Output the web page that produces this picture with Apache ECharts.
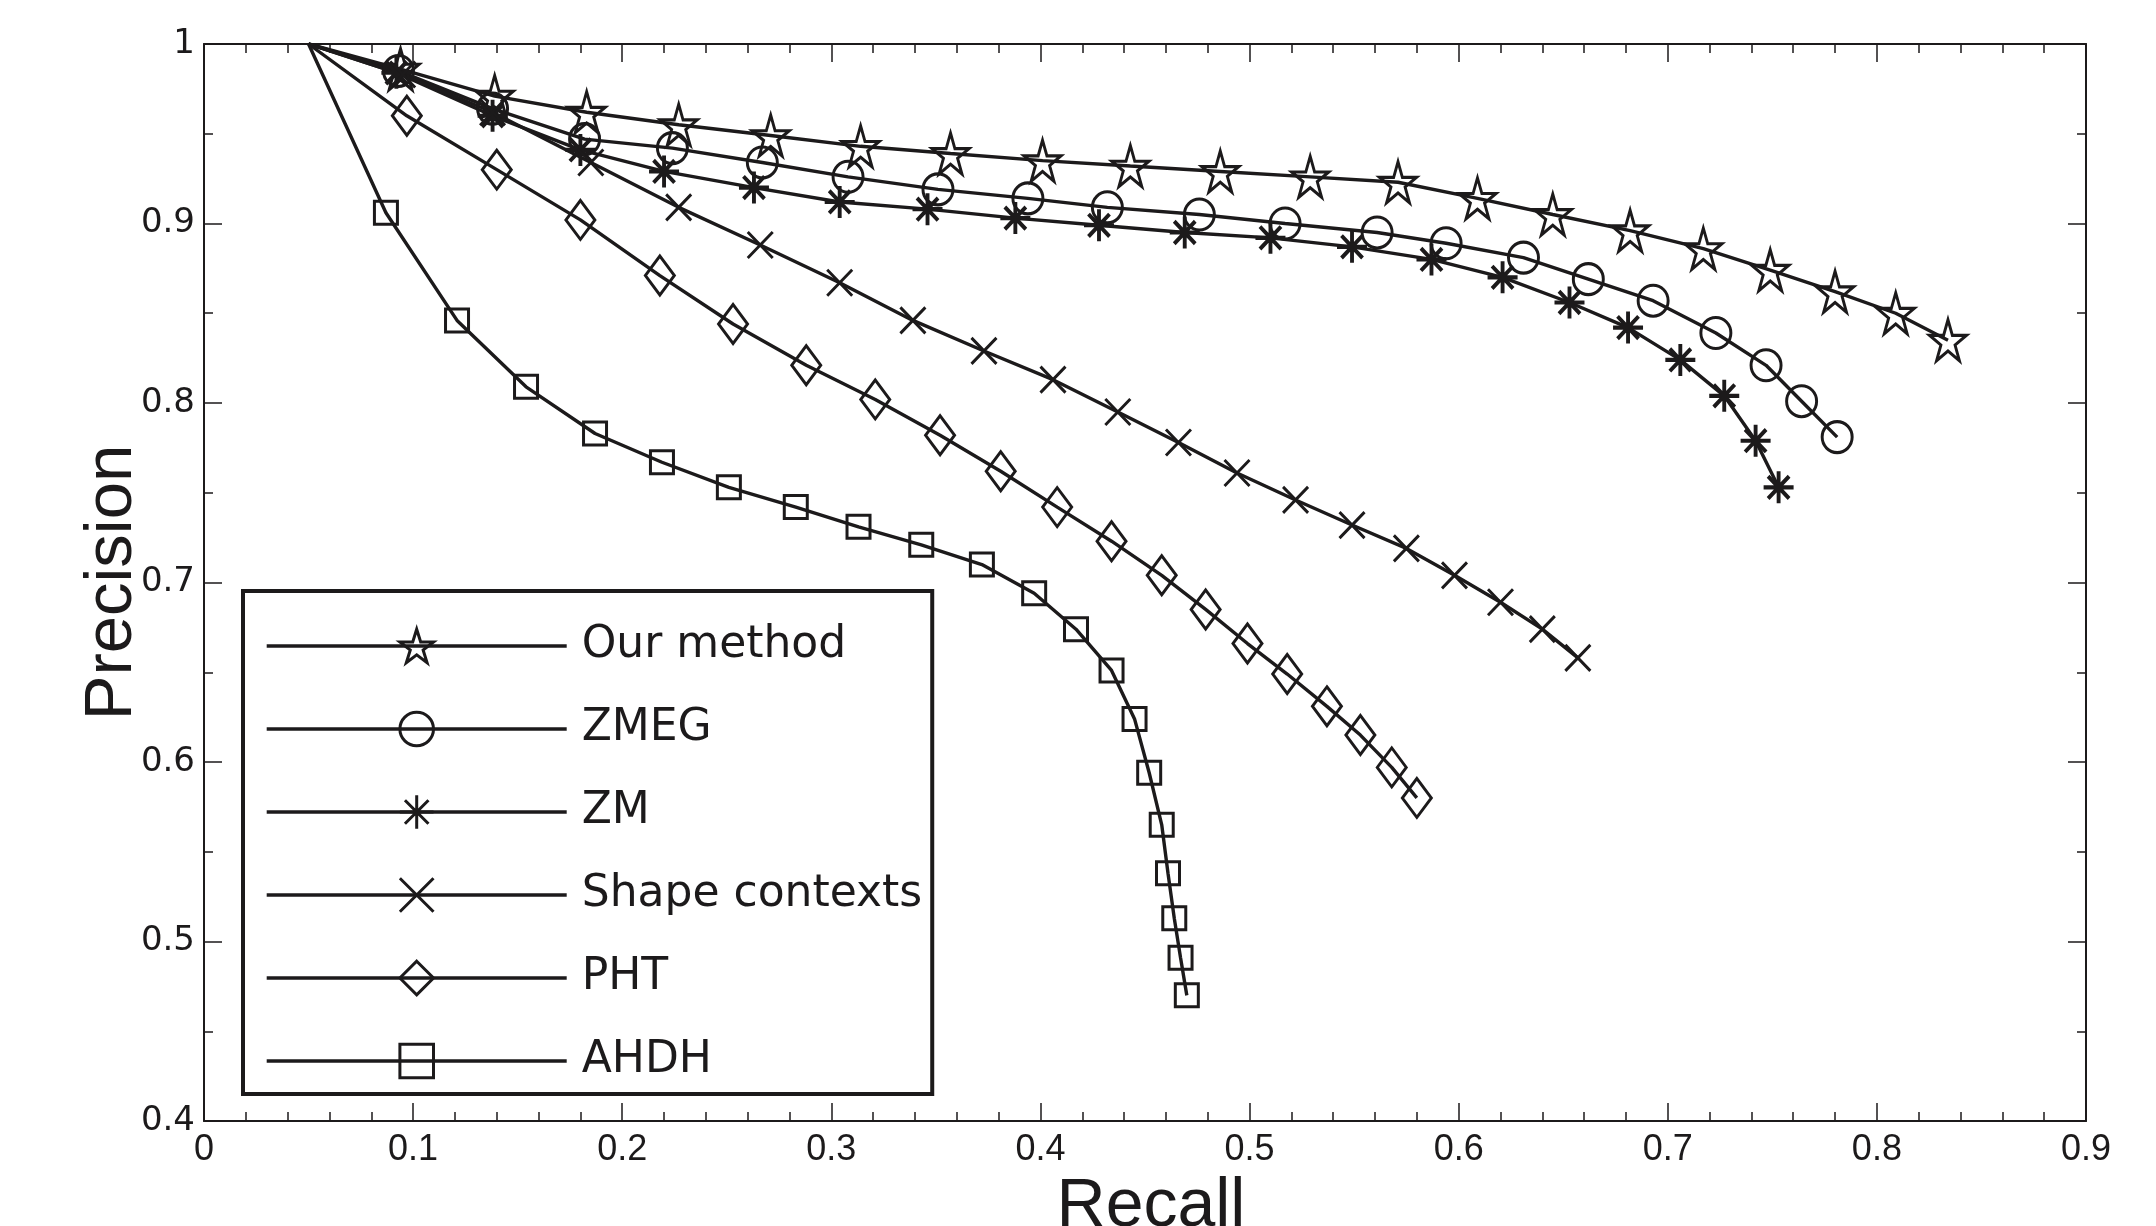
<!DOCTYPE html>
<html>
<head>
<meta charset="utf-8">
<script src="https://cdn.jsdelivr.net/npm/echarts@6/dist/echarts.min.js"></script>
<style>
html,body{margin:0;padding:0;background:#fff;overflow:hidden;}
#chart{width:2156px;height:1226px;}
</style>
</head>
<body>
<div id="chart"></div>
<script>
// ---------- data ----------
const seriesNames = ['Our method', 'ZMEG', 'ZM', 'Shape contexts', 'PHT', 'AHDH'];

const oursRecall = [0.05, 0.094, 0.139, 0.183, 0.227, 0.271, 0.314, 0.357, 0.401, 0.443, 0.486, 0.529, 0.571, 0.609, 0.645, 0.682, 0.717, 0.749, 0.780, 0.809, 0.834];
const oursPrecision = [1, 0.986, 0.971, 0.962, 0.955, 0.949, 0.943, 0.939, 0.935, 0.932, 0.929, 0.926, 0.923, 0.914, 0.905, 0.896, 0.886, 0.874, 0.862, 0.850, 0.835];

const zmegRecall = [0.05, 0.093, 0.138, 0.182, 0.224, 0.267, 0.308, 0.351, 0.394, 0.432, 0.476, 0.517, 0.561, 0.594, 0.631, 0.662, 0.693, 0.723, 0.747, 0.764, 0.781];
const zmegPrecision = [1, 0.985, 0.964, 0.947, 0.942, 0.934, 0.926, 0.919, 0.914, 0.909, 0.905, 0.900, 0.895, 0.889, 0.881, 0.869, 0.857, 0.839, 0.821, 0.801, 0.781];

const zmRecall = [0.05, 0.092, 0.138, 0.180, 0.220, 0.263, 0.304, 0.346, 0.388, 0.428, 0.469, 0.510, 0.549, 0.587, 0.621, 0.653, 0.681, 0.706, 0.727, 0.742, 0.753];
const zmPrecision = [1, 0.984, 0.960, 0.941, 0.929, 0.920, 0.912, 0.908, 0.903, 0.899, 0.895, 0.892, 0.887, 0.880, 0.870, 0.856, 0.842, 0.824, 0.804, 0.779, 0.753];

const scRecall = [0.05, 0.095, 0.138, 0.185, 0.227, 0.266, 0.304, 0.339, 0.373, 0.406, 0.437, 0.466, 0.494, 0.522, 0.549, 0.575, 0.598, 0.620, 0.640, 0.657];
const scPrecision = [1, 0.983, 0.962, 0.934, 0.909, 0.888, 0.867, 0.846, 0.829, 0.813, 0.795, 0.778, 0.761, 0.746, 0.732, 0.719, 0.704, 0.689, 0.674, 0.658];

const phtRecall = [0.05, 0.097, 0.140, 0.180, 0.218, 0.253, 0.288, 0.321, 0.352, 0.381, 0.408, 0.434, 0.458, 0.479, 0.499, 0.518, 0.537, 0.553, 0.568, 0.580];
const phtPrecision = [1, 0.960, 0.930, 0.902, 0.871, 0.844, 0.821, 0.802, 0.782, 0.762, 0.742, 0.723, 0.704, 0.685, 0.666, 0.649, 0.631, 0.615, 0.597, 0.580];

const ahdhRecall = [0.05, 0.087, 0.121, 0.154, 0.187, 0.219, 0.251, 0.283, 0.313, 0.343, 0.372, 0.397, 0.417, 0.434, 0.445, 0.452, 0.458, 0.461, 0.464, 0.467, 0.470];
const ahdhPrecision = [1, 0.906, 0.846, 0.809, 0.783, 0.767, 0.753, 0.742, 0.731, 0.721, 0.710, 0.694, 0.674, 0.651, 0.624, 0.594, 0.565, 0.538, 0.513, 0.491, 0.470];

const xTickLabels = ['0', '0.1', '0.2', '0.3', '0.4', '0.5', '0.6', '0.7', '0.8', '0.9'];
const yTickLabels = ['0.4', '0.5', '0.6', '0.7', '0.8', '0.9', '1'];

// ---------- styling ----------
const INK = '#1c1a1b';
const STAR = 'path://M50,0 L61.23,34.55 L97.55,34.55 L68.16,55.9 L79.39,90.45 L50,69.1 L20.61,90.45 L31.84,55.9 L2.45,34.55 L38.77,34.55 Z';
const ASTER = 'path://M50,0L50,100M0,50L100,50M15,15L85,85M85,15L15,85';
const CROSS = 'path://M0,0L100,100M100,0L0,100';

const seriesDefs = [
  {name: seriesNames[0], r: oursRecall, p: oursPrecision, symbol: STAR, size: [37, 41], bw: 3},
  {name: seriesNames[1], r: zmegRecall, p: zmegPrecision, symbol: 'circle', size: [30, 31], bw: 3},
  {name: seriesNames[2], r: zmRecall, p: zmPrecision, symbol: ASTER, size: [30, 32], bw: 4},
  {name: seriesNames[3], r: scRecall, p: scPrecision, symbol: CROSS, size: [25, 26], bw: 3},
  {name: seriesNames[4], r: phtRecall, p: phtPrecision, symbol: 'diamond', size: [29, 39], bw: 3},
  {name: seriesNames[5], r: ahdhRecall, p: ahdhPrecision, symbol: 'rect', size: [23, 23], bw: 3}
];

const series = seriesDefs.map(d => ({
  name: d.name,
  type: 'line',
  xAxisIndex: 0,
  yAxisIndex: 0,
  data: d.r.map((x, i) => i === 0 ? {value: [x, d.p[i]], symbol: 'none'} : [x, d.p[i]]),
  symbol: d.symbol,
  symbolSize: d.size,
  showSymbol: true,
  clip: false,
  z: 3,
  color: INK,
  lineStyle: {color: INK, width: 3.4},
  itemStyle: {color: 'rgba(0,0,0,0)', borderColor: INK, borderWidth: d.bw},
  emphasis: {disabled: true},
  animation: false
}));

const axisLineStyle = {show: true, onZero: false, lineStyle: {color: INK, width: 2}};
const majorTick = {show: true, inside: true, length: 18, lineStyle: {color: INK, width: 1.5}};

const option = {
  backgroundColor: '#ffffff',
  animation: false,
  grid: {left: 204, right: 70, top: 44, bottom: 105, containLabel: false, outerBoundsMode: 'none'},
  xAxis: [
    {
      type: 'value', position: 'bottom', min: 0, max: 0.9, interval: 0.1,
      axisLine: axisLineStyle, axisTick: majorTick, splitLine: {show: false},
      minorTick: {show: true, splitNumber: 5, length: 9, lineStyle: {color: INK, width: 1.5}},
      axisLabel: {
        margin: 11, color: INK, fontSize: 36, fontFamily: 'Liberation Sans',
        formatter: v => xTickLabels[Math.round(v / 0.1)]
      },
      name: 'Recall', nameLocation: 'middle', nameGap: 48,
      nameTextStyle: {fontSize: 68, fontFamily: 'Liberation Sans', color: INK, padding: [0, 0, 0, 12]}
    },
    {
      type: 'value', position: 'top', min: 0, max: 0.9, interval: 0.1,
      axisLine: axisLineStyle, axisTick: majorTick, splitLine: {show: false},
      minorTick: {show: true, splitNumber: 5, length: 9, lineStyle: {color: INK, width: 1.5}},
      axisLabel: {show: false}
    }
  ],
  yAxis: [
    {
      type: 'value', position: 'left', min: 0.4, max: 1, interval: 0.1,
      axisLine: axisLineStyle, axisTick: majorTick, splitLine: {show: false},
      minorTick: {show: true, splitNumber: 2, length: 9, lineStyle: {color: INK, width: 1.5}},
      axisLabel: {
        margin: 9, color: INK, fontSize: 34, fontFamily: 'DejaVu Sans',
        formatter: v => yTickLabels[Math.round((v - 0.4) / 0.1)]
      },
      name: 'Precision', nameLocation: 'middle', nameGap: 58, nameRotate: 90,
      nameMoveOverlap: false,
      nameTextStyle: {fontSize: 67, fontFamily: 'Liberation Sans', color: INK}
    },
    {
      type: 'value', position: 'right', min: 0.4, max: 1, interval: 0.1,
      axisLine: axisLineStyle, axisTick: majorTick, splitLine: {show: false},
      minorTick: {show: true, splitNumber: 2, length: 9, lineStyle: {color: INK, width: 1.5}},
      axisLabel: {show: false}
    }
  ],
  legend: {
    orient: 'vertical',
    left: 243,
    top: 591,
    padding: [33, 10, 11, 22],
    itemWidth: 300,
    itemHeight: 42,
    itemGap: 39,
    backgroundColor: '#ffffff',
    borderColor: INK,
    borderWidth: 4,
    borderRadius: 0,
    selectedMode: false,
    z: 10,
    lineStyle: {width: 3.4, color: INK},
    itemStyle: {color: 'rgba(0,0,0,0)', borderColor: INK, borderWidth: 3},
    textStyle: {fontSize: 44, fontFamily: 'DejaVu Sans', color: INK, padding: [0, 0, 0, 10]},
    data: seriesNames
  },
  series: series
};

const chart = echarts.init(document.getElementById('chart'), null, {renderer: 'canvas'});
chart.setOption(option);
</script>
</body>
</html>
